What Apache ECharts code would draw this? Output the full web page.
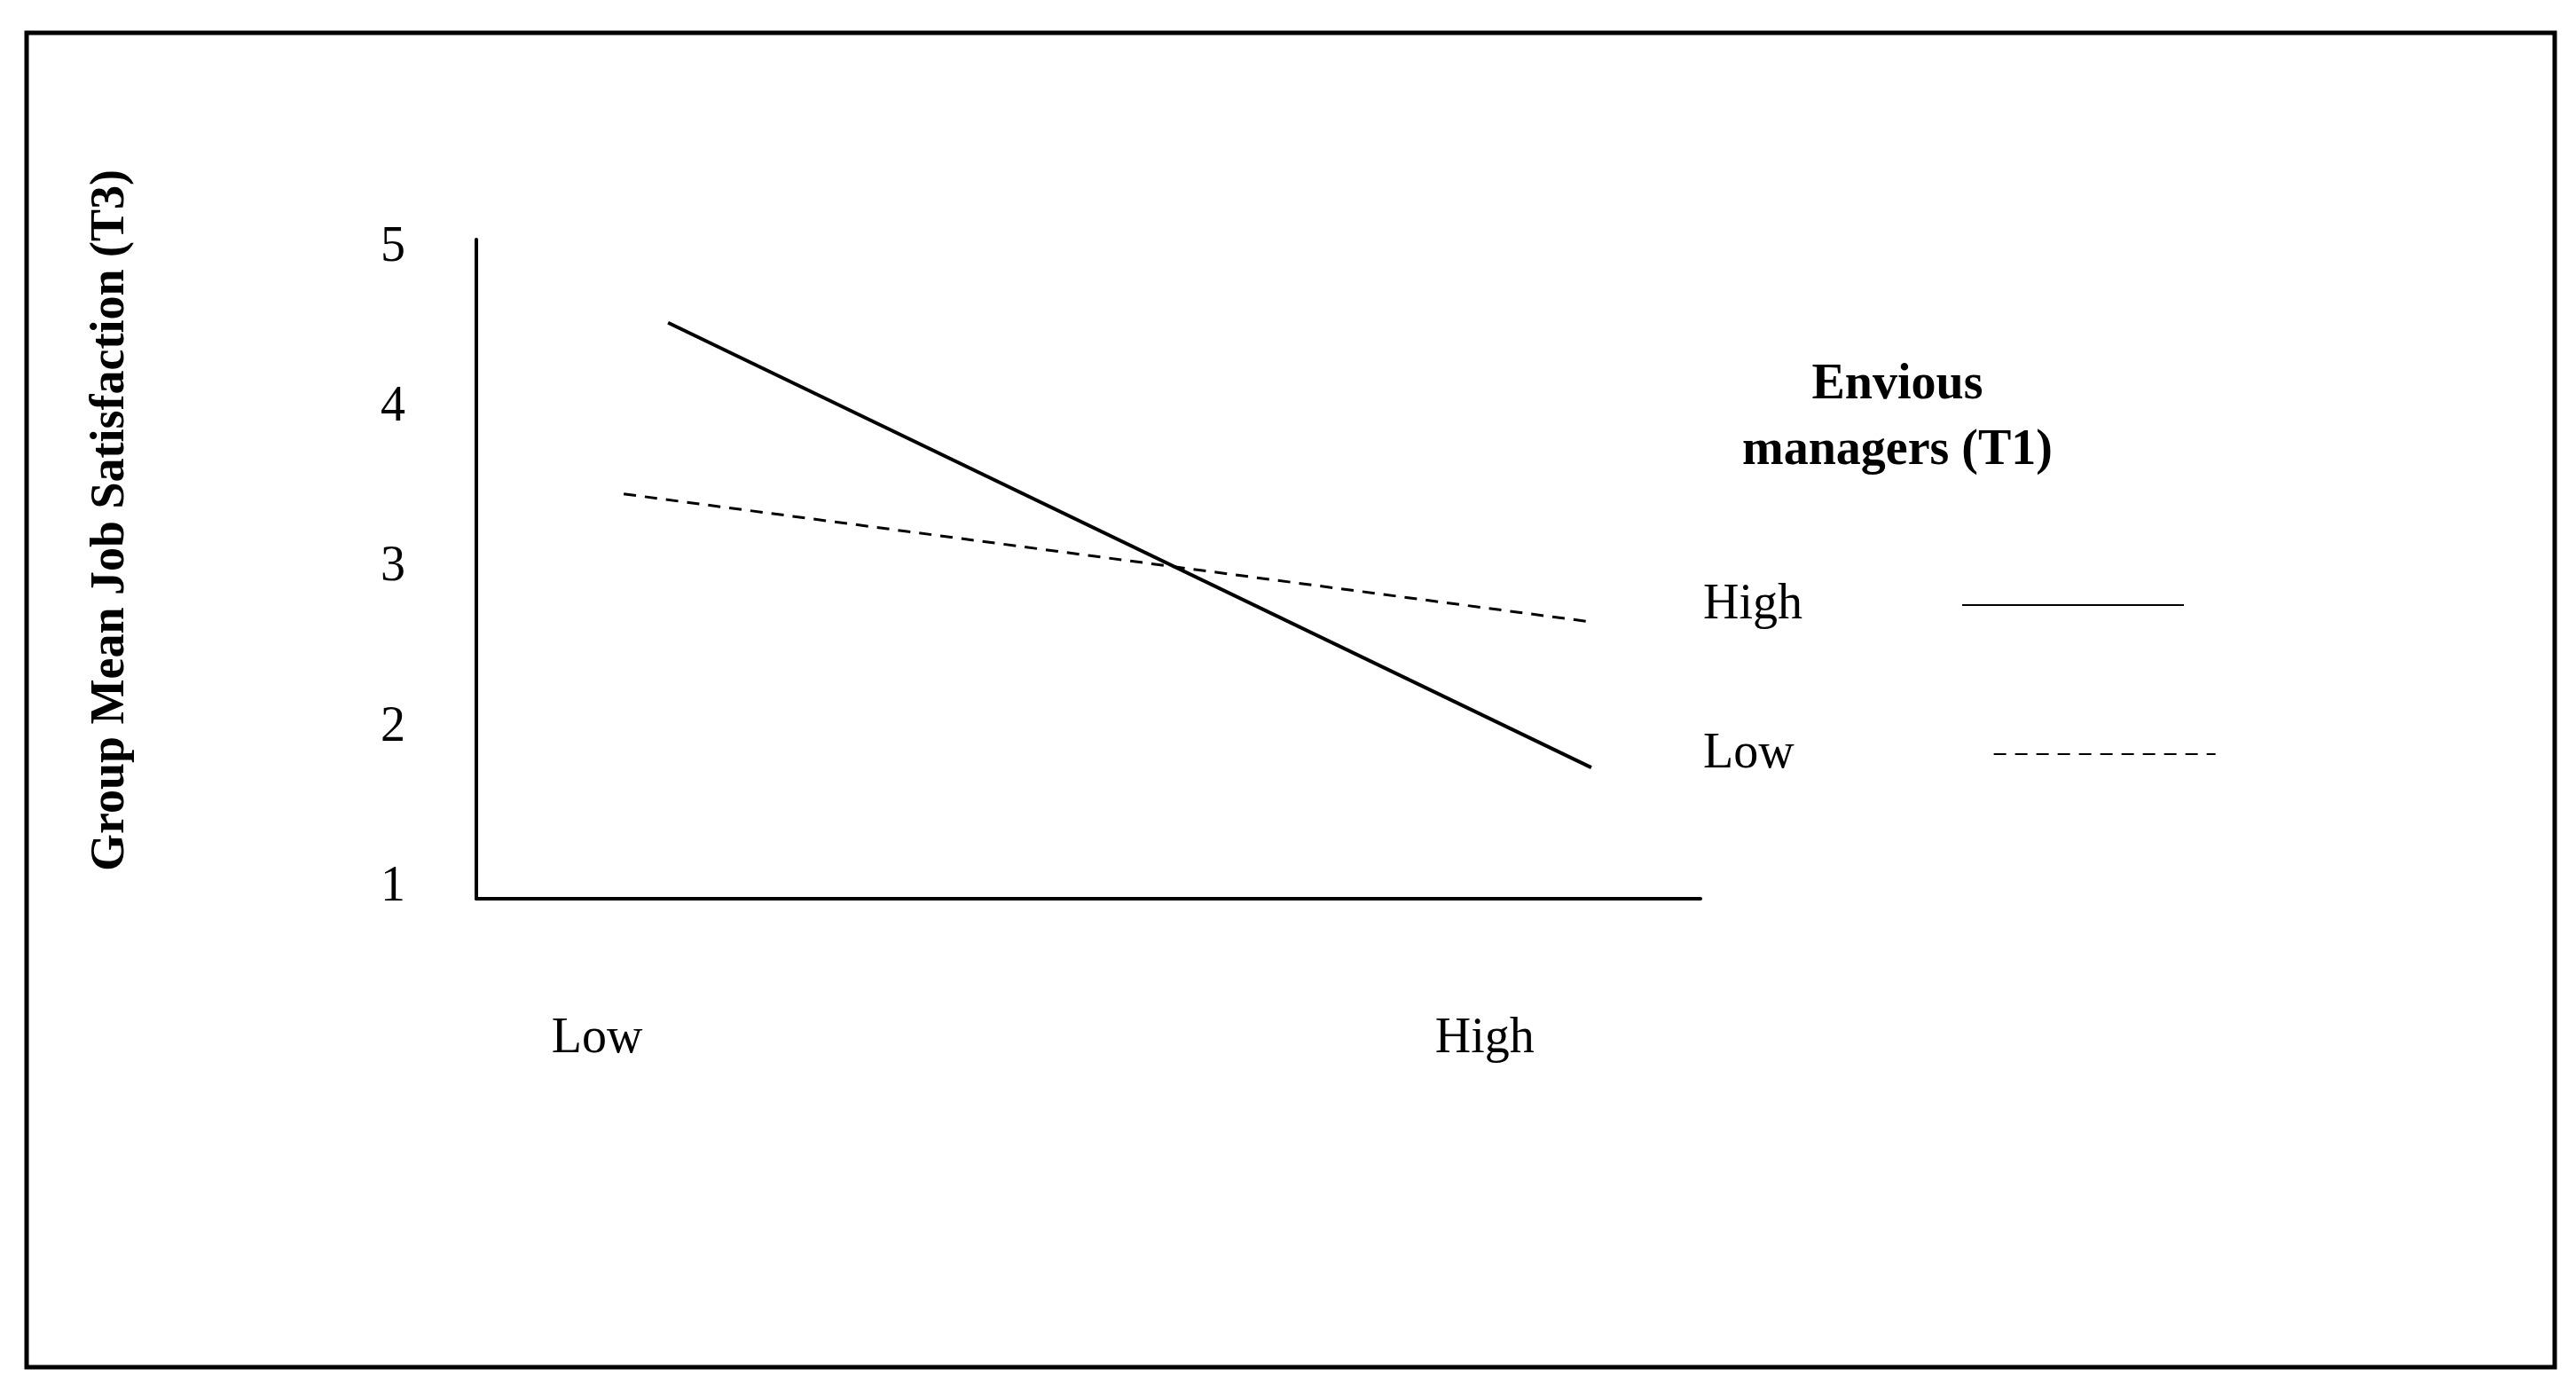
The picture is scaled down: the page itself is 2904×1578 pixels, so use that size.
<!DOCTYPE html>
<html lang="en">
<head>
    <meta charset="UTF-8">
    <title>Group Mean Job Satisfaction</title>
    <script src="https://cdn.jsdelivr.net/npm/echarts@6/dist/echarts.min.js"></script>
    <style>
        html, body { margin: 0; padding: 0; background: #fff; }
        #main { width: 2904px; height: 1578px; }
    </style>
</head>
<body>
<div id="main"></div>
<script>
    // x: 0 = Low, 1 = High
    var xTicks = [0, 1];
    var xTickLabels = ['Low', 'High'];
    var yTicks = [1, 2, 3, 4, 5];
    var highX = [0.08, 1.12];
    var highY = [4.53, 1.75];
    var lowX = [0.03, 1.12];
    var lowY = [3.46, 2.66];

    function pairs(xs, ys) {
        return xs.map(function (x, i) { return [x, ys[i]]; });
    }

    var font = 'Liberation Serif';

    function legendFor(name, top, padRight) {
        return {
            orient: 'vertical',
            left: 1915,
            top: top,
            align: 'right',
            itemWidth: 250,
            itemHeight: 40,
            itemStyle: { opacity: 0 },
            textStyle: { fontFamily: font, fontSize: 56, color: '#000', padding: [0, padRight, 0, 0] },
            data: [name]
        };
    }

    echarts.init(document.getElementById('main')).setOption({
        backgroundColor: '#fff',
        animation: false,
        title: {
            text: 'Envious\nmanagers (T1)',
            left: 2134,
            top: 393,
            textAlign: 'center',
            textStyle: { fontFamily: font, fontSize: 56, fontWeight: 'bold', lineHeight: 74, color: '#000', align: 'center' }
        },
        legend: [
            legendFor('High', 649, 175),
            legendFor('Low', 817, 220)
        ],
        grid: { left: 537, right: 2904 - 1917, top: 270, bottom: 565 },
        xAxis: {
            type: 'value',
            min: -0.136,
            max: 1.243,
            splitLine: { show: false },
            axisLine: { show: true, onZero: false, lineStyle: { color: '#000', width: 4 } },
            axisTick: { show: false },
            axisLabel: {
                customValues: xTicks,
                margin: 130,
                fontFamily: font,
                fontSize: 56,
                color: '#000',
                formatter: function (v) { return xTickLabels[xTicks.indexOf(v)]; }
            }
        },
        yAxis: {
            type: 'value',
            min: 0.93,
            max: 5.05,
            name: 'Group Mean Job Satisfaction (T3)',
            nameLocation: 'middle',
            nameGap: 385,
            nameTextStyle: { fontFamily: font, fontSize: 54, fontWeight: 'bold', color: '#000', padding: [0, 0, 0, 110] },
            splitLine: { show: false },
            axisLine: { show: true, onZero: false, lineStyle: { color: '#000', width: 4 } },
            axisTick: { show: false },
            axisLabel: {
                customValues: yTicks,
                margin: 80,
                fontFamily: font,
                fontSize: 56,
                color: '#000'
            }
        },
        series: [
            {
                name: 'High',
                type: 'line',
                symbol: 'none',
                data: pairs(highX, highY),
                lineStyle: { color: '#000', width: 4, type: 'solid' },
                itemStyle: { color: '#000' }
            },
            {
                name: 'Low',
                type: 'line',
                symbol: 'none',
                data: pairs(lowX, lowY),
                lineStyle: { color: '#000', width: 3, type: [14, 10] },
                itemStyle: { color: '#000' }
            }
        ],
        graphic: [
            {
                type: 'rect',
                shape: { x: 30, y: 37, width: 2850, height: 1504 },
                style: { fill: 'none', stroke: '#000', lineWidth: 5 }
            }
        ]
    });
</script>
</body>
</html>
